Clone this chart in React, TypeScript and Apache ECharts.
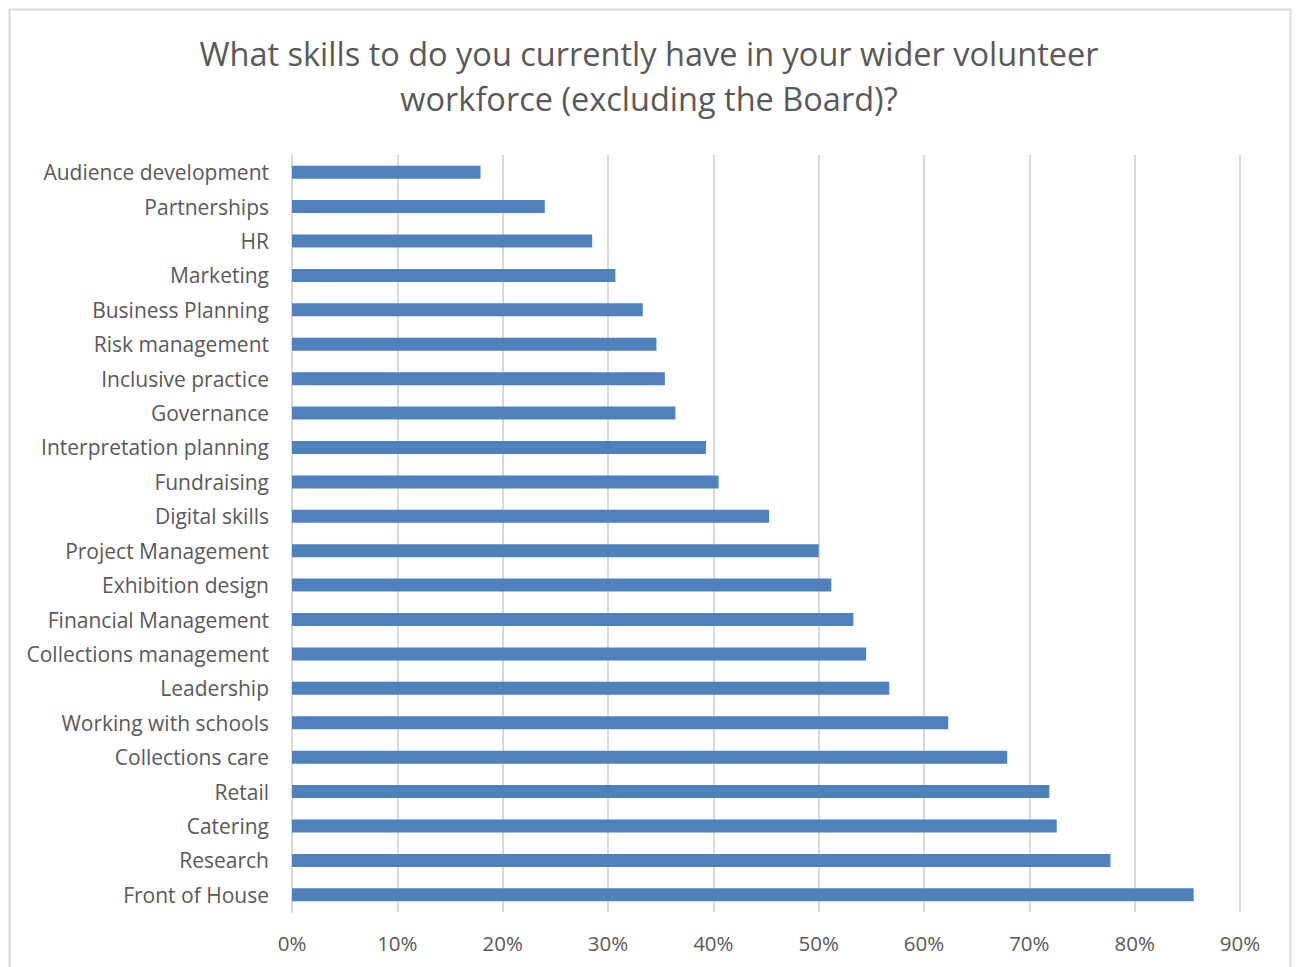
import React, { useEffect, useRef } from "react";
import * as echarts from "echarts";

const categories = [
  "Audience development",
  "Partnerships",
  "HR",
  "Marketing",
  "Business Planning",
  "Risk management",
  "Inclusive practice",
  "Governance",
  "Interpretation planning",
  "Fundraising",
  "Digital skills",
  "Project Management",
  "Exhibition design",
  "Financial Management",
  "Collections management",
  "Leadership",
  "Working with schools",
  "Collections care",
  "Retail",
  "Catering",
  "Research",
  "Front of House",
];

const values = [
  0.179, 0.24, 0.285, 0.307, 0.333, 0.346, 0.354, 0.364, 0.393, 0.405, 0.453,
  0.5, 0.512, 0.533, 0.545, 0.567, 0.623, 0.679, 0.719, 0.726, 0.777, 0.856,
];

const titleText =
  "What skills to do you currently have in your wider volunteer\nworkforce (excluding the Board)?";

const FONT = "'Open Sans', 'Noto Sans', sans-serif";
const TEXT = "#595959";

export default function App() {
  const ref = useRef<HTMLDivElement>(null);
  useEffect(() => {
    if (!ref.current) return;
    const chart = echarts.init(ref.current, undefined, { renderer: "svg" });
    chart.setOption({
      animation: false,
      backgroundColor: "#ffffff",
      title: {
        text: titleText,
        left: 644,
        top: 26,
        textAlign: "center",
        textStyle: {
          fontFamily: FONT,
          fontSize: 32.5,
          fontWeight: "normal",
          color: TEXT,
          lineHeight: 45,
        },
      },
      graphic: [
        {
          type: "rect",
          shape: { x: 9.5, y: 9.5, width: 1281, height: 975 },
          style: { fill: "none", stroke: "#d9d9d9", lineWidth: 2 },
          silent: true,
        },
      ],
      grid: { left: 292, right: 56, top: 155, bottom: 55, containLabel: false },
      xAxis: {
        type: "value",
        min: 0,
        max: 0.9,
        interval: 0.1,
        axisLine: { show: false },
        axisTick: { show: false },
        splitLine: { show: true, lineStyle: { color: "#d9d9d9", width: 2 } },
        axisLabel: {
          formatter: (v: number) => Math.round(v * 100) + "%",
          fontFamily: FONT,
          fontSize: 20.5,
          color: TEXT,
          margin: 20,
        },
      },
      yAxis: {
        type: "category",
        data: categories,
        inverse: true,
        axisLine: { show: true, lineStyle: { color: "#d9d9d9", width: 2 } },
        axisTick: { show: false },
        axisLabel: {
          fontFamily: FONT,
          fontSize: 21,
          color: TEXT,
          margin: 23,
          padding: [0, 0, 2, 0],
        },
      },
      series: [
        {
          type: "bar",
          data: values,
          barWidth: 13,
          itemStyle: { color: "#4F81BD" },
        },
      ],
    });
    return () => chart.dispose();
  }, []);
  return (
    <div
      ref={ref}
      style={{ position: "fixed", left: 0, top: 0, width: 1296, height: 967 }}
    />
  );
}
